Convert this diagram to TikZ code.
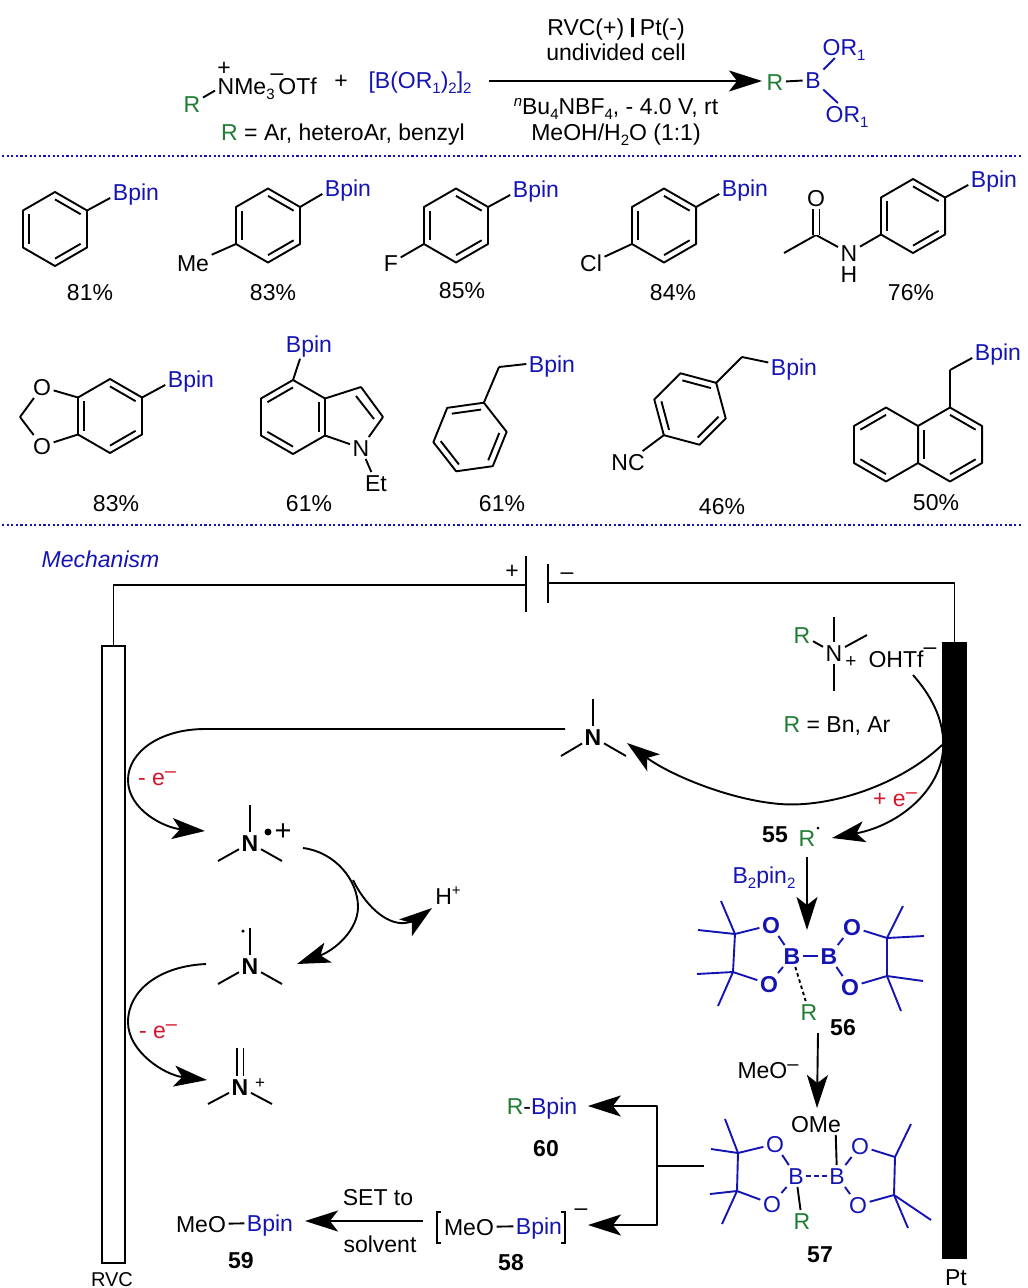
\documentclass[tikz,border=0pt]{standalone}
\usepackage{fontspec}
\setmainfont{Liberation Sans}
\usetikzlibrary{arrows.meta,calc}
\definecolor{bblue}{HTML}{1414B4}
\definecolor{rgreen}{HTML}{1E7D32}
\definecolor{ered}{HTML}{D4142A}
\newcommand{\atdn}[1]{\raisebox{-5pt}{\fontsize{15}{15}\selectfont #1}}
\newcommand{\atup}[1]{\raisebox{9pt}{\fontsize{15}{15}\selectfont #1}}
\newcommand{\chgm}{\raisebox{7.5pt}{\fontsize{20}{20}\selectfont –}}
\newcommand{\rgrp}{\textcolor{rgreen}{R}}
\newcommand{\ringat}[3]{%
  \coordinate (#1o) at (#2);
  \foreach \i/\vx in {0/a,1/b,2/c,3/d,4/e,5/f}{\coordinate (#1\vx) at ([shift={(#3+60*\i:37pt)}]#2);}
  \draw[bond] (#1a) -- (#1b) -- (#1c) -- (#1d) -- (#1e) -- (#1f) -- cycle;}
\newcommand{\dbl}[3]{\draw[bond] ($(#1#2)!.2!(#1o)$) -- ($(#1#3)!.2!(#1o)$);}
\newcommand{\arene}[3]{\ringat{#1}{#2}{#3}\dbl{#1}{a}{b}\dbl{#1}{c}{d}\dbl{#1}{e}{f}}

\begin{document}
\begin{tikzpicture}[x=1pt,y=-1pt,>={Stealth[length=33pt,width=21pt,inset=8pt]}]
  \tikzstyle{every node}=[inner sep=2.5pt,text height=16.5pt,text depth=0pt,font=\fontsize{23}{26}\selectfont]
  \tikzstyle{bond}=[line width=1.9pt,line join=round]
  \tikzstyle{bbond}=[bond,draw=bblue]
  \tikzstyle{arw}=[bond,->]
  \tikzstyle{sepline}=[line width=2.2pt,bblue,dash pattern=on 2.2pt off 2.4pt]
  \tikzstyle{blu}=[text=bblue]
  \tikzstyle{grn}=[text=rgreen]
  \tikzstyle{redt}=[text=ered]
  \tikzstyle{rad}=[circle,fill=black,inner sep=0pt,text height=0pt,minimum size=3.5pt]
  \tikzstyle{elec}=[draw=black,line width=2pt,inner sep=0pt,text height=0pt,minimum width=23pt,minimum height=617pt]
  \useasboundingbox (0,0) rectangle (1028,1288);

  \foreach \n/\x/\y in {sa/2/156,sb/1022/156,sc/2/525,sd/1022/525,
      ta/489/81,tb/762/81,mA/784/253,cA/816/235,chB/20/417,c3/361/387,c2/383/417,
      c3i/356/396,c2i/374/419,chH/499/367,chI/742/357,chJ/950/370,
      n1u/593/699,n1l/561/756,n1r/626/756,n2u/250/805,n2l/218/861,n2r/282/861,
      n3u/250/928,n3l/218/984,n3r/282/984,n4u/240/1048,n4l/208/1104,n4r/272/1104,
      sU/834/617,sD/834/691,sR/867/635,
      pA1/735/934,pA2/733/972,pA3/721/901,pA4/698/930,pA5/697/974,pA6/718/1006,
      pB1/887/938,pB2/887/976,pB3/903/906,pB4/924/936,pB5/923/981,pB6/901/1011,
      qA1/738/1153,qA2/737/1191,qA3/725/1119,qA4/711/1149,qA5/710/1194,qA6/722/1224,
      qB1/895/1157,qB2/894/1195,qB3/911/1124,qB4/908/1228,qB5/931/1220,
      capl/526/585,capr/548/583,plA/526/556,plB/526/612,plC/548/564,plD/548/603,
      crA/565/729,crB/205/729,crC/128/780,crD/205/831,
      crE/303/848,crF/358/907,crG/297/964,crH/353/880,crI/432/908,crS/405/923,
      crJ/206/964,crK/128/1022,crL/207/1080,
      crM/913/675,crN/943/750,crO/832/838,crP/942/745,crQ/780/804,crR/627/743,
      a55/807/857,a56/807/930,b56/818/1033,b57/817/1108,
      stub/704/1166,tj/657/1166,t58/588/1225,setA/423/1221,setB/305/1221}
    {\coordinate (\n) at (\x,\y);}

  % scheme
  \node[grn] (R0) at (192,104) {R};
  \node[anchor=west] (Nme) at (215,86) {NMe\atdn{3}\,OTf};
  \node (Nplus) at (224,67) {+};
  \node (Nminus) at (277,72) {–};
  \node (plus) at (341,80) {+};
  \node[blu] (Bor) at (420,80) {[B(OR\atdn{1})\atdn{2}]\atdn{2}};
  \node (c1) at (616,27) {RVC(+)\;\rule[-2pt]{3pt}{19pt}\;Pt(-)};
  \node (c2t) at (616,52) {undivided cell};
  \node (c3t) at (616,106) {\raisebox{8pt}{\fontsize{15}{15}\selectfont\itshape n}Bu\atdn{4}NBF\atdn{4}, - 4.0 V, rt};
  \node (c4t) at (616,132) {MeOH/H\atdn{2}O (1:1)};
  \node (c5t) at (343,132) {\rgrp{} = Ar, heteroAr, benzyl};
  \node[grn] (R1) at (775,82) {R};
  \node[blu] (B1) at (813,80) {B};
  \node[blu,anchor=west] (Oa) at (820,47) {OR\atdn{1}};
  \node[blu,anchor=west] (Ob) at (823,114) {OR\atdn{1}};
  \path[bond] (R0) edge (Nme.185);
  \path[bond] (R1) edge (B1);
  \path[bbond] (B1) edge (Oa.-130) edge (Ob.130);
  \draw[arw] (ta) -- (tb);
  \draw[sepline] (sa) -- (sb);
  \draw[sepline] (sc) -- (sd);

  % first row
  \arene{ra}{55,229}{30}
  \node[blu] (pa) at (136,192) {Bpin};
  \node (ya) at (90,292) {81\%};
  \path[bond] (raa) edge (pa.193);

  \arene{rb}{268,225.5}{30}
  \node[blu] (pb) at (348,188) {Bpin};
  \node (meb) at (193,263) {Me};
  \node (yb) at (273,292) {83\%};
  \path[bond] (rba) edge (pb.193)
              (rbd) edge (meb);

  \arene{rc}{456,225.5}{30}
  \node[blu] (pc) at (536,189) {Bpin};
  \node (fc) at (391,263) {F};
  \node (yc) at (462,290) {85\%};
  \path[bond] (rca) edge (pc.193)
              (rcd) edge (fc);

  \arene{rd}{664,225.5}{30}
  \node[blu] (pd) at (745,188) {Bpin};
  \node (cld) at (591,263) {Cl};
  \node (yd) at (673,292) {84\%};
  \path[bond] (rda) edge (pd.193)
              (rdd) edge (cld);

  \arene{re}{913,216}{30}
  \node[blu] (pe) at (994,179) {Bpin};
  \node (ne) at (849,253) {N};
  \node (he) at (849,274) {H};
  \node (oe) at (816,198) {O};
  \node (ye) at (911,292) {76\%};
  \path[bond] (rea) edge (pe.193)
              (red) edge (ne)
              (ne)  edge (cA)
              (cA)  edge (mA)
              (cA)  edge[double,double distance=5pt] (oe);

  % second row
  \arene{rf}{110,416}{30}
  \node[blu] (pf) at (191,379) {Bpin};
  \node (oft) at (42,387) {O};
  \node (ofb) at (42,446) {O};
  \node (yf) at (116,503) {83\%};
  \path[bond] (rfa) edge (pf.193)
              (rfc) edge (oft)
              (rfd) edge (ofb)
              (chB) edge (oft)
                    edge (ofb);

  \arene{rg}{293,417}{90}
  \node[blu] (pg) at (309,344) {Bpin};
  \node (ng) at (361,448) {N};
  \node (etg) at (376,483) {Et};
  \node (yg) at (309,503) {61\%};
  \path[bond] (rga) edge[shorten >=4pt] (pg.235)
              (rgf) edge (c3)
              (c3)  edge (c2)
              (c3i) edge (c2i)
              (c2)  edge (ng)
              (rge) edge (ng)
              (ng)  edge (etg);

  \arene{rh}{470,437}{68}
  \node[blu] (ph) at (552,364) {Bpin};
  \node (yh) at (502,503) {61\%};
  \path[bond] (rha) edge (chH)
              (chH) edge (ph.west);

  \arene{ri}{690,409}{45}
  \node[blu] (pi) at (794,367) {Bpin};
  \node (nci) at (628,462) {NC};
  \node (yi) at (722,506) {46\%};
  \path[bond] (ria) edge (chI)
              (chI) edge (pi.170)
              (rid) edge (nci);

  \arene{rj}{950,444.5}{30}
  \ringat{rk}{886,444.5}{90}
  \dbl{rk}{a}{b}
  \dbl{rk}{c}{d}
  \node[blu] (pj) at (998,352) {Bpin};
  \node (yj) at (936,502) {50\%};
  \path[bond] (rjb) edge (chJ)
              (chJ) edge (pj.193);

  % cell
  \node[blu,anchor=west,font=\fontsize{23}{26}\selectfont\itshape] (mech) at (39,559) {Mechanism};
  \node[elec] (rvc) at (113.5,954.5) {};
  \node[elec,fill=black,minimum height=615pt] (pt) at (954.5,950.5) {};
  \node[font=\fontsize{20}{22}\selectfont,text height=14.3pt] (rvcl) at (112,1279) {RVC};
  \node (ptl) at (956,1277) {Pt};
  \node (capp) at (512,570) {+};
  \node (capm) at (567,571) {–};
  \draw[bond] (rvc.north) |- (capl);
  \draw[bond] (capr) -| (pt.north);
  \draw[bond] (plA) -- (plB);
  \draw[bond] (plC) -- (plD);

  % amines on the left
  \node (n1) at (593,737) {\textbf{N}};
  \node (n2) at (250,843) {\textbf{N}};
  \node (n3) at (250,966) {\textbf{N}};
  \node (n4) at (240,1087) {\textbf{N}};
  \node[rad,minimum size=7pt] (d2) at (268,832) {};
  \node (p2) at (283,832) {\fontsize{29}{30}\selectfont +};
  \node[rad] (d3) at (243,931) {};
  \node (p4) at (260,1080) {\fontsize{17}{18}\selectfont +};
  \node (hp) at (448,896) {H\atup{+}};
  \node[redt] (ea) at (157,777) {- e\chgm};
  \node[redt] (eb) at (158,1030) {- e\chgm};
  \path[bond] (n1) edge (n1u) edge (n1l) edge (n1r)
              (n2) edge (n2u) edge (n2l) edge (n2r)
              (n3) edge (n3u) edge (n3l) edge (n3r)
              (n4) edge (n4l) edge (n4r)
              (n4) edge[double,double distance=5pt] (n4u);
  \draw[arw] (crA) -- (crB) .. controls (160,729) and (128,752) .. (crC)
             .. controls (128,810) and (165,828) .. (crD);
  \draw[arw] (crE) .. controls (335,852) and (358,880) .. (crF)
             .. controls (358,930) and (335,950) .. (crG);
  \draw[arw] (crH) .. controls (364,903) and (385,925) .. (crS)
             .. controls (415,922) and (424,914) .. (crI);
  \draw[arw] (crJ) .. controls (160,966) and (128,990) .. (crK)
             .. controls (128,1052) and (165,1075) .. (crL);

  % salt at the cathode
  \node[grn] (rs) at (802,635) {R};
  \node (ns) at (834,653) {N};
  \node (ps) at (851,659) {\fontsize{19}{20}\selectfont +};
  \node (ohtf) at (896,659) {OHTf};
  \node (ohm) at (930,646) {–};
  \node (req) at (837,724) {\rgrp{} = Bn, Ar};
  \path[bond] (ns) edge (rs) edge (sU) edge (sD) edge (sR);
  \node[redt] (ec) at (895,798) {+ e\chgm};
  \draw[arw] (crM) .. controls (935,700) and (945,725) .. (crN)
             .. controls (940,790) and (900,825) .. (crO);
  \draw[arw] (crP) .. controls (900,785) and (830,808) .. (crQ)
             .. controls (730,800) and (670,775) .. (crR);

  % radical and diboron
  \node (l55) at (775,834) {\textbf{55}};
  \node[grn] (r55) at (807,838) {R};
  \node[rad,minimum size=3pt] (d55) at (818,828) {};
  \node[blu] (bp2) at (764,875) {B\atdn{2}pin\atdn{2}};
  \draw[arw] (a55) -- (a56);
  \node[blu] (b1) at (792,956) {\textbf{B}};
  \node[blu] (b2) at (829,956) {\textbf{B}};
  \node[blu] (oa) at (771,925) {\textbf{O}};
  \node[blu] (ob) at (769,984) {\textbf{O}};
  \node[blu] (oc) at (852,927) {\textbf{O}};
  \node[blu] (od) at (850,987) {\textbf{O}};
  \node[grn] (r56) at (809,1012) {R};
  \node (l56) at (843,1027) {\textbf{56}};
  \path[bbond] (b1) edge (b2) edge (oa) edge (ob)
               (b2) edge (oc) edge (od)
               (oa) edge (pA1)
               (ob) edge (pA2)
               (oc) edge (pB1)
               (od) edge (pB2)
               (pA1) edge (pA2) edge (pA3) edge (pA4)
               (pA2) edge (pA5) edge (pA6)
               (pB1) edge (pB2) edge (pB3) edge (pB4)
               (pB2) edge (pB5) edge (pB6);
  \path[bond,dash pattern=on 3.5pt off 3pt] (b1) edge (r56);
  \draw[arw] (b56) -- (b57);
  \node (meo) at (768,1070) {MeO\chgm};

  % borate
  \node (ome) at (816,1124) {OMe};
  \node[blu] (b3) at (796,1176) {B};
  \node[blu] (b4) at (837,1176) {B};
  \node[blu] (oe1) at (775,1144) {O};
  \node[blu] (oe2) at (772,1204) {O};
  \node[blu] (oe3) at (860,1146) {O};
  \node[blu] (oe4) at (858,1205) {O};
  \node[grn] (r57) at (802,1221) {R};
  \node (l57) at (820,1254) {\textbf{57}};
  \path[bbond] (b3) edge (oe1) edge (oe2)
               (b4) edge (oe3) edge (oe4)
               (oe1) edge (qA1)
               (oe2) edge (qA2)
               (oe3) edge (qB1)
               (oe4) edge (qB2)
               (qA1) edge (qA2) edge (qA3) edge (qA4)
               (qA2) edge (qA5) edge (qA6)
               (qB1) edge (qB2) edge (qB3)
               (qB2) edge (qB4) edge (qB5);
  \path[bbond,dash pattern=on 5pt off 3pt] (b3) edge (b4);
  \path[bond] (ome.-29) edge (b4)
              (b3) edge (r57);

  % products
  \node (rb60) at (542,1106) {\rgrp\textcolor{black}{-}\textcolor{bblue}{Bpin}};
  \node (l60) at (546,1148) {\textbf{60}};
  \node (m58) at (469,1227) {MeO};
  \node[blu] (p58) at (539,1226) {Bpin};
  \node (ch58) at (581,1207) {–};
  \node (l58) at (511,1262) {\textbf{58}};
  \node (m59) at (201,1224) {MeO};
  \node[blu] (p59) at (270,1223) {Bpin};
  \node (l59) at (241,1260) {\textbf{59}};
  \node (set) at (378,1197) {SET to};
  \node (solv) at (380,1244) {solvent};
  \path[bond] (m58) edge (p58)
              (m59) edge (p59);
  \draw[line width=1.4pt] (441,1212) -- (437,1212) -- (437,1243) -- (441,1243);
  \draw[line width=1.4pt] (561,1212) -- (565,1212) -- (565,1243) -- (561,1243);
  \draw[bond] (stub) -- (tj);
  \draw[arw,shorten >=8pt] (tj) |- (rb60.east);
  \draw[arw] (tj) |- (t58);
  \draw[arw] (setA) -- (setB);
\end{tikzpicture}
\end{document}
